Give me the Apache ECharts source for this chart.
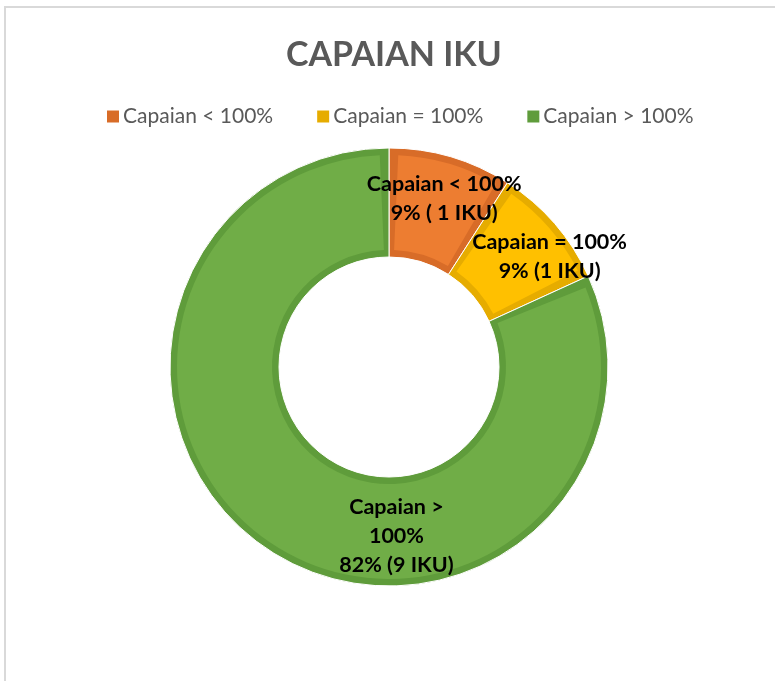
<!DOCTYPE html>
<html>
<head>
<meta charset="utf-8">
<script src="https://cdn.jsdelivr.net/npm/echarts@6/dist/echarts.min.js"></script>
<style>html,body{margin:0;padding:0;background:#fff}#c{width:775px;height:681px}</style>
</head>
<body>
<div id="c"></div>
<script>
const categories = ['Capaian < 100%', 'Capaian = 100%', 'Capaian > 100%'];
const values = [1, 1, 9];
const labelTexts = ['Capaian < 100%\n9% ( 1 IKU)', 'Capaian = 100%\n9% (1 IKU)', 'Capaian >\n100%\n82% (9 IKU)'];
const fillColors = ['#ED7D31', '#FFC000', '#70AD47'];
const edgeColors = ['#D86C28', '#E6AC00', '#5F9C3B'];
const labelShift = [[8, -8], [34, -1], [98, 28]];

const chart = echarts.init(document.getElementById('c'), null, {renderer: 'canvas'});
const font = 'Lato, "Open Sans", sans-serif';
chart.setOption({
  animation: false,
  graphic: [{
    type: 'rect', shape: {x: 5, y: 7, width: 820, height: 720},
    style: {fill: 'none', stroke: '#D9D9D9', lineWidth: 2}, silent: true
  }],
  title: {
    text: 'CAPAIAN IKU', left: 281, top: 33,
    textStyle: {fontFamily: font, fontWeight: 'bold', fontSize: 34, color: '#595959'}
  },
  legend: {
    data: categories, top: 106, left: 105, padding: 0, itemWidth: 14, itemHeight: 14, itemGap: 42,
    icon: 'rect',
    textStyle: {fontFamily: font, fontSize: 21, color: '#595959', padding: [0, 0, 0, -2]}
  },
  series: [{
    type: 'pie', center: [389, 367], radius: [110, 219], startAngle: 90, clockwise: true,
    z: 1,
    data: categories.map((n, i) => ({name: n, value: values[i], itemStyle: {color: edgeColors[i]}})),
    itemStyle: {borderColor: '#ffffff', borderWidth: 1},
    label: {show: false}, labelLine: {show: false},
    emphasis: {disabled: true}
  }, {
    type: 'pie', center: [389, 367], radius: [117, 212], startAngle: 90, clockwise: true,
    padAngle: 5, z: 2, silent: true,
    data: categories.map((n, i) => ({name: n, value: values[i], itemStyle: {color: fillColors[i]}})),
    label: {
      show: true, position: 'inside', color: '#000', fontFamily: font, fontWeight: 'bold',
      fontSize: 21.5, lineHeight: 29, align: 'center',
      formatter: p => labelTexts[p.dataIndex]
    },
    labelLine: {show: false},
    labelLayout: p => ({dx: labelShift[p.dataIndex][0], dy: labelShift[p.dataIndex][1]}),
    emphasis: {disabled: true}
  }]
});
</script>
</body>
</html>
